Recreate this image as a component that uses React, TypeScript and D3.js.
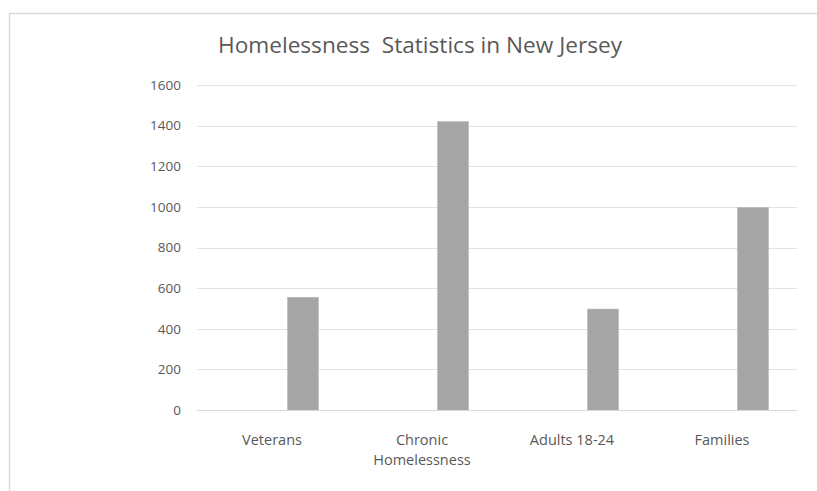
import React from "react";
import * as d3 from "d3";

const categories: string[][] = [["Veterans"], ["Chronic", "Homelessness"], ["Adults 18-24"], ["Families"]];
const seriesA: number[] = [0, 0, 0, 0];
const seriesB: number[] = [0, 0, 0, 0];
const seriesC: number[] = [555, 1420, 497, 997];
const yTicks: number[] = [0, 200, 400, 600, 800, 1000, 1200, 1400, 1600];
const title = "Homelessness  Statistics in New Jersey";

const W = 817;
const H = 491;
const left = 197;
const right = 797;
const top = 85;
const bottom = 410;

export default function App() {
  const keys = categories.map((c) => c.join(" "));
  const x = d3.scaleBand<string>().domain(keys).range([left, right]).paddingInner(0).paddingOuter(0);
  const inner = d3
    .scaleBand<string>()
    .domain(["a", "b", "c"])
    .range([0, x.bandwidth()])
    .paddingInner(0)
    .paddingOuter(0.92);
  const y = d3.scaleLinear().domain([0, 1600]).range([bottom, top]);
  const series = [
    { k: "a", v: seriesA },
    { k: "b", v: seriesB },
    { k: "c", v: seriesC },
  ];
  return (
    <svg width={W} height={H} style={{ position: "absolute", left: 0, top: 0 }}>
      <rect x={0} y={0} width={W} height={H} fill="#fff" />
      <line x1={9} y1={13.5} x2={W} y2={13.5} stroke="#d9d9d9" strokeWidth={1.5} />
      <line x1={9.5} y1={13} x2={9.5} y2={H} stroke="#d9d9d9" strokeWidth={1.5} />
      <text
        x={420}
        y={53}
        textAnchor="middle"
        fontFamily="'Open Sans', sans-serif"
        fontWeight={400}
        fontSize={22}
        fill="#595959"
        textLength={404}
        lengthAdjust="spacingAndGlyphs"
        style={{ whiteSpace: "pre" }}
      >
        {title}
      </text>
      {yTicks.map((t) => (
        <g key={t}>
          <line x1={left} x2={right} y1={Math.round(y(t)) + 0.5} y2={Math.round(y(t)) + 0.5} stroke="#e3e3e3" strokeWidth={1} />
          <text x={181} y={y(t) + 4.8} textAnchor="end" fontFamily="'Open Sans', sans-serif" fontSize={13.5} fill="#595959">
            {t}
          </text>
        </g>
      ))}
      {keys.map((k, i) =>
        series.map((s) =>
          s.v[i] > 0 ? (
            <rect
              key={k + s.k}
              x={(x(k) as number) + (inner(s.k) as number)}
              y={y(s.v[i])}
              width={inner.bandwidth()}
              height={y(0) - y(s.v[i])}
              fill="#a5a5a5"
              stroke="#b5b5b5"
              strokeWidth={0.5}
            />
          ) : null
        )
      )}
      <line x1={left} x2={right} y1={410.5} y2={410.5} stroke="#d9d9d9" strokeWidth={1} />
      {categories.map((lines, i) => (
        <text
          key={i}
          x={(x(keys[i]) as number) + x.bandwidth() / 2}
          y={445}
          textAnchor="middle"
          fontFamily="'Open Sans', sans-serif"
          fontSize={14.5}
          fill="#595959"
        >
          {lines.map((l, j) => (
            <tspan key={j} x={(x(keys[i]) as number) + x.bandwidth() / 2} dy={j === 0 ? 0 : 20}>
              {l}
            </tspan>
          ))}
        </text>
      ))}
    </svg>
  );
}
